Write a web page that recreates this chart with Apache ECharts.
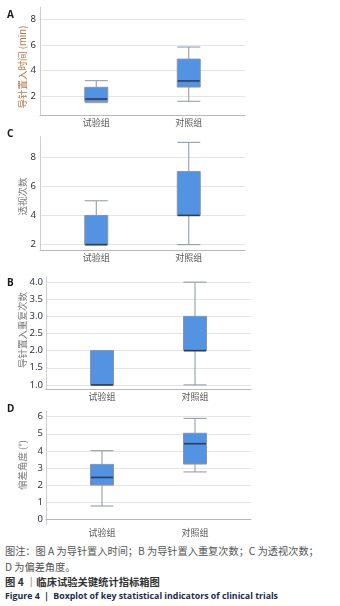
<!DOCTYPE html>
<html>
<head>
<meta charset="utf-8">
<script src="https://cdn.jsdelivr.net/npm/echarts@6/dist/echarts.min.js"></script>
<style>
  html, body { margin: 0; padding: 0; background: #fff; }
  #chart { position: absolute; left: 0; top: 0; width: 340px; height: 540px; }
  .cap { position: absolute; left: 5px; white-space: nowrap; font-family: "Noto Sans CJK SC", "Noto Sans", sans-serif; }
  .note { font-size: 10.2px; color: #555; }
  .zh { font-size: 10.3px; color: #333; font-weight: bold; }
  .en { font-size: 8.8px; color: #1c2b4f; font-weight: bold; font-family: "Open Sans", "Noto Sans", sans-serif; }
</style>
</head>
<body>
<div id="chart"></div>
<div class="cap note" style="top:543px">图注：图 A 为导针置入时间；B 为导针置入重复次数；C 为透视次数；</div>
<div class="cap note" style="top:559px">D 为偏差角度。</div>
<div class="cap zh" style="top:574px">图 4 ｜临床试验关键统计指标箱图</div>
<div class="cap en" style="top:590px">Figure 4 ｜ Boxplot of key statistical indicators of clinical trials</div>
<script>
// data: [min, Q1, median, Q3, max]
const categories = ['试验组', '对照组'];
const timeA = [[1.47, 1.55, 1.76, 2.68, 3.2], [1.58, 2.7, 3.18, 4.9, 5.85]];
const fluoroC = [[2, 2, 2, 4, 5], [2, 4, 4, 7, 9]];
const repeatB = [[1, 1, 1, 2, 2], [1, 2, 2, 3, 4]];
const angleD = [[0.78, 2.0, 2.45, 3.21, 4.01], [2.77, 3.23, 4.42, 5.03, 5.9]];
const ticksA = [2, 4, 6, 8];
const ticksC = [2, 4, 6, 8];
const ticksB = [1, 1.5, 2, 2.5, 3, 3.5, 4];
const ticksD = [0, 1, 2, 3, 4, 5, 6];

const panels = [
  { letter: 'A', data: timeA, ticks: ticksA, min: 0.5, max: 9, dec: 0,
    name: '导针置入时间 (min)', nameColor: '#b47a4c',
    full: { left: 40, right: 95, top: 7, height: 108 }, inner: { left: 50, right: 105 }, lblMargin: 4 },
  { letter: 'C', data: fluoroC, ticks: ticksC, min: 1.6, max: 9.4, dec: 0,
    name: '透视次数', nameColor: '#7a7a7a',
    full: { left: 40, right: 95, top: 136.5, height: 114 }, inner: { left: 50, right: 105 }, lblMargin: 4 },
  { letter: 'B', data: repeatB, ticks: ticksB, min: 0.88, max: 4.15, dec: 1,
    name: '导针置入重复次数', nameColor: '#7a7a7a',
    full: { left: 46, right: 89, top: 277, height: 112 }, inner: { left: 55.5, right: 98.5 }, lblMargin: 3 },
  { letter: 'D', data: angleD, ticks: ticksD, min: -0.33, max: 6.33, dec: 0,
    name: '偏差角度 (°)', nameColor: '#7a7a7a',
    full: { left: 46, right: 89, top: 411, height: 114 }, inner: { left: 55.5, right: 98.5 }, lblMargin: 3 }
];

const font = '"Noto Sans", "Noto Sans CJK SC", sans-serif';
const grid = [], xAxis = [], yAxis = [], series = [], graphic = [];

panels.forEach((p, i) => {
  const g0 = i * 2, g1 = i * 2 + 1;
  grid.push({ left: p.full.left, right: p.full.right, top: p.full.top, height: p.full.height });
  grid.push({ left: p.inner.left, right: p.inner.right, top: p.full.top, height: p.full.height });

  // outer grid: axis lines, split lines and y labels
  xAxis.push({ type: 'category', gridIndex: g0, data: categories,
    axisLine: { lineStyle: { color: '#b8b8b8' } }, axisTick: { show: false }, axisLabel: { show: false } });
  yAxis.push({ type: 'value', gridIndex: g0, min: p.min, max: p.max,
    axisLine: { show: true, lineStyle: { color: '#cfcfcf' } },
    axisTick: { show: false, customValues: p.ticks },
    axisLabel: { customValues: p.ticks, margin: p.lblMargin, fontSize: 9.5, color: '#2e3545', fontFamily: font,
      formatter: v => Number(v).toFixed(p.dec) },
    splitLine: { show: true, lineStyle: { color: '#e4e4e4' } } });

  // inner grid: where the boxes sit, with the category labels
  xAxis.push({ type: 'category', gridIndex: g1, data: categories,
    axisLine: { show: false }, axisTick: { show: false },
    axisLabel: { margin: 3, fontSize: 9, color: '#555', fontFamily: '"Noto Sans CJK SC", sans-serif' } });
  yAxis.push({ type: 'value', gridIndex: g1, min: p.min, max: p.max, show: false });

  series.push({ type: 'boxplot', xAxisIndex: g1, yAxisIndex: g1, data: p.data,
    boxWidth: [23, 23],
    itemStyle: { color: '#5393e2', borderColor: '#8a95a4', borderWidth: 1 } });
  // median line drawn darker on top
  series.push({ type: 'scatter', xAxisIndex: g1, yAxisIndex: g1,
    data: p.data.map(d => d[2]),
    symbol: 'rect', symbolSize: [22, 1.6], silent: true, z: 3,
    itemStyle: { color: '#22406a', opacity: 1 } });

  graphic.push({ type: 'text', left: 7, top: p.full.top + (i === 0 ? 3 : i === 1 ? -7 : i === 2 ? 1 : -7),
    style: { text: p.letter, font: 'bold 10px "Noto Sans", sans-serif', fill: '#1a1a1a' } });
  graphic.push({ type: 'text', x: 22, y: p.full.top + p.full.height / 2 + (i === 0 ? 6 : i === 1 ? 3 : i === 2 ? -3 : -3),
    rotation: Math.PI / 2,
    style: { text: p.name, x: 0, y: 0, align: 'center', verticalAlign: 'middle',
      font: '9.5px "Noto Sans CJK SC", sans-serif', fill: p.nameColor } });
});

const chart = echarts.init(document.getElementById('chart'), null, { renderer: 'canvas' });
chart.setOption({
  animation: false,
  grid, xAxis, yAxis, series, graphic
});
</script>
</body>
</html>
